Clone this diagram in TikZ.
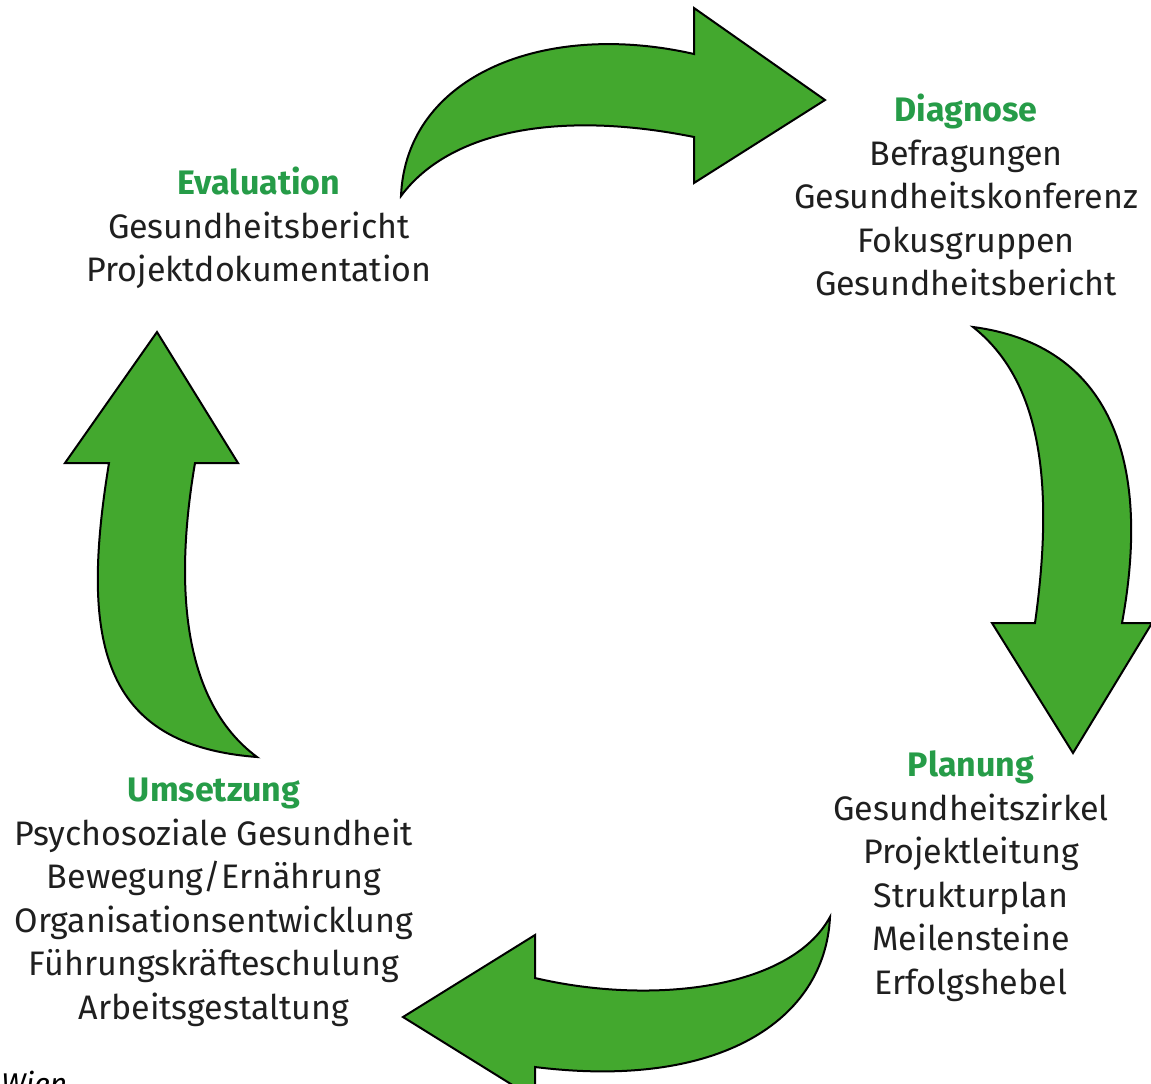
\documentclass[tikz,border=0pt]{standalone}
\usepackage{fontspec}
\setmainfont{Fira Sans}
\usepackage{xcolor}
\usepackage{tikz}
\usetikzlibrary{positioning}
\definecolor{arrowgreen}{RGB}{67,168,46}
\definecolor{titlegreen}{RGB}{38,156,72}
\newcommand{\stagetitle}[1]{\textcolor{titlegreen}{\bfseries\strut #1}}

\begin{document}
\begin{tikzpicture}[x=0.5pt,y=-0.5pt,
  stage/.style={align=center,anchor=north,inner sep=0pt,text=black!88,
    font=\fontsize{17}{21.75}\selectfont},
  blockarrow/.style={fill=arrowgreen,draw=black,line width=1pt,line join=miter}]
  \useasboundingbox (0,0) rectangle (1151,1083);
  \clip (0,0) rectangle (1151,1083);
  % the four stages
  \node[stage] (evaluation) at (259,164) {\stagetitle{Evaluation}\\Gesundheitsbericht\\Projektdokumentation};
  \node[stage] (diagnose) at (966,91) {\stagetitle{Diagnose}\\Befragungen\\Gesundheitskonferenz\\Fokusgruppen\\Gesundheitsbericht};
  \node[stage] (planung) at (971,746) {\stagetitle{Planung}\\Gesundheitszirkel\\Projektleitung\\Strukturplan\\Meilensteine\\Erfolgshebel};
  \node[stage] (umsetzung) at (214,771) {\stagetitle{Umsetzung}\\Psychosoziale Gesundheit\\Bewegung/Ernährung\\Organisationsentwicklung\\Führungskräfteschulung\\Arbeitsgestaltung};
  \node[anchor=base west,inner sep=0pt,font=\fontsize{15}{18}\selectfont\itshape] (wien) at (1,1094) {Wien};
  % block arrows
  \draw[blockarrow] (401,196) .. controls (406,75) and (545,20) .. (694,54) -- (694,8) -- (825,100)
    -- (694,183) -- (694,137) .. controls (560,110) and (450,130) .. (401,196) -- cycle;
  \draw[blockarrow] (973,327) .. controls (1110,345) and (1152,460) .. (1122,623) -- (1152,623) -- (1073,753)
    -- (992,623) -- (1035,623) .. controls (1055,480) and (1040,380) .. (973,327) -- cycle;
  \draw[blockarrow] (830,917) .. controls (825,1020) and (720,1090) .. (535,1067) -- (535,1099) -- (403,1017)
    -- (535,935) -- (535,978) .. controls (650,1005) and (790,990) .. (830,917) -- cycle;
  \draw[blockarrow] (257,757) .. controls (100,745) and (80,640) .. (109,463) -- (65,463) -- (157,332)
    -- (238,463) -- (195,463) .. controls (175,580) and (180,700) .. (257,757) -- cycle;
\end{tikzpicture}
\end{document}
